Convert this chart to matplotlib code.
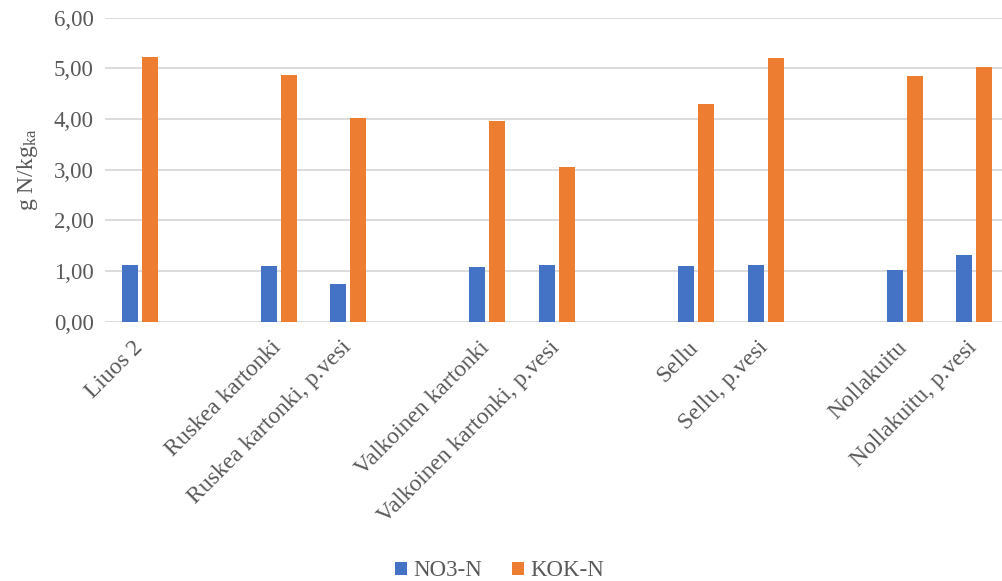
import numpy as np
import matplotlib.pyplot as plt
import matplotlib.transforms as mtransforms

plt.rcParams['font.family'] = ['Liberation Serif', 'DejaVu Serif']
plt.rcParams['mathtext.fontset'] = 'custom'
plt.rcParams['mathtext.rm'] = 'Liberation Serif'
plt.rcParams['mathtext.it'] = 'Liberation Serif:italic'

# tyhjät nimet tekevät välit ryhmien väliin
kategoriat = ['Liuos 2', '', 'Ruskea kartonki', 'Ruskea kartonki, p.vesi', '',
              'Valkoinen kartonki', 'Valkoinen kartonki, p.vesi', '',
              'Sellu', 'Sellu, p.vesi', '', 'Nollakuitu', 'Nollakuitu, p.vesi']
no3_n = [1.12, np.nan, 1.10, 0.75, np.nan, 1.07, 1.12, np.nan, 1.09, 1.11, np.nan, 1.02, 1.31]
kok_n = [5.22, np.nan, 4.87, 4.02, np.nan, 3.96, 3.05, np.nan, 4.29, 5.20, np.nan, 4.85, 5.03]

sininen = '#4472C4'
oranssi = '#ED7D31'
harmaa = '#595959'
fs = 16.5

fig = plt.figure(figsize=(10.03, 5.81), dpi=100)
ax = fig.add_axes([105/1003, 1-321.7/581, 904/1003, 304.2/581])

x = np.arange(len(kategoriat))
w = 0.23
ax.bar(x - 0.144, no3_n, w, color=sininen, label='NO3-N', zorder=3)
ax.bar(x + 0.144, kok_n, w, color=oranssi, label='KOK-N', zorder=3)

ax.set_xlim(-0.5, len(kategoriat) - 0.5)
ax.set_ylim(0, 6)
ax.set_yticks(np.arange(0, 7, 1))
ax.set_yticklabels([f'{v:.2f}'.replace('.', ',') for v in range(7)],
                   fontsize=fs, color=harmaa)
ax.grid(axis='y', color='#d9d9d9', linewidth=1.3, zorder=0)
for s in ax.spines.values():
    s.set_visible(False)
ax.tick_params(length=0, pad=8)

ax.set_xticks(x)
ax.set_xticklabels(kategoriat, rotation=45, ha='right', va='top',
                   rotation_mode='anchor', fontsize=17, color=harmaa)
ax.tick_params(axis='x', pad=11)
siirto = mtransforms.ScaledTranslation(-8/100, 0, fig.dpi_scale_trans)
for lbl in ax.get_xticklabels():
    lbl.set_transform(lbl.get_transform() + siirto)

ax.set_ylabel(r'g N/kg$_{\mathrm{ka}}$', fontsize=17, color=harmaa, labelpad=10)

leg = fig.legend(loc='center', bbox_to_anchor=(500/1003, 10/581), ncol=2,
                 frameon=False, fontsize=fs, handlelength=0.5, handleheight=0.5,
                 columnspacing=1.3, handletextpad=0.3)
for t in leg.get_texts():
    t.set_color(harmaa)

fig.savefig('out.png', dpi=100)
